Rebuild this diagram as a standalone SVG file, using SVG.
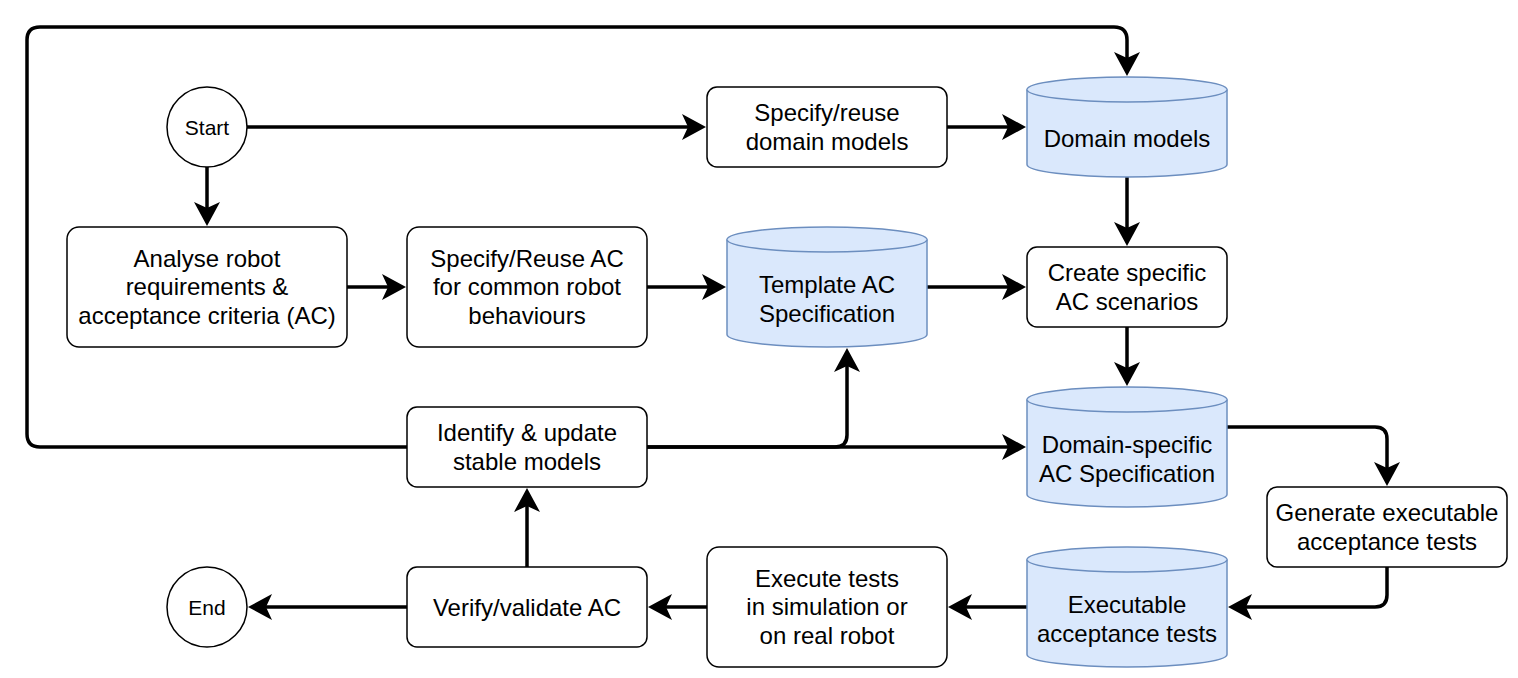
<svg xmlns="http://www.w3.org/2000/svg" width="1518" height="678" viewBox="0 0 1518 678">
<style>
.box{fill:#ffffff;stroke:#000000;stroke-width:1.5}
.cyl{fill:#dae8fc;stroke:#6c8ebf;stroke-width:1.5}
.t{font-family:"Liberation Sans",Arial,Helvetica,sans-serif;font-size:24px;fill:#000000;text-anchor:middle}
.ts{font-family:"Liberation Sans",Arial,Helvetica,sans-serif;font-size:21px;fill:#000000;text-anchor:middle}
.e{fill:none;stroke:#000000;stroke-width:3.5;marker-end:url(#arr)}
</style>
<defs>
<marker id="arr" markerUnits="userSpaceOnUse" markerWidth="26" markerHeight="28" viewBox="0 -14 26 28" refX="6" refY="0" orient="auto">
<path d="M0,-13 L24,0 L0,13 L6,0 Z" fill="#000000"/>
</marker>
</defs>
<rect width="1518" height="678" fill="#ffffff"/>
<g id="connectors">
<path class="e" d="M247,127 H688"/>
<path class="e" d="M207,167 V208"/>
<path class="e" d="M947,127 H1008"/>
<path class="e" d="M1127,177 V228"/>
<path class="e" d="M347,287 H388"/>
<path class="e" d="M647,287 H708"/>
<path class="e" d="M927,287 H1008"/>
<path class="e" d="M1127,327 V368"/>
<path class="e" d="M1227,427 H1375 Q1387,427 1387,439 V468"/>
<path class="e" d="M1387,567 V595 Q1387,607 1375,607 H1246"/>
<path class="e" d="M1027,607 H966"/>
<path class="e" d="M707,607 H666"/>
<path class="e" d="M407,607 H266"/>
<path class="e" d="M527,567 V506"/>
<path class="e" d="M647,447 H835 Q847,447 847,435 V366"/>
<path class="e" d="M647,447 H1008"/>
<path class="e" d="M407,447 H40 Q27,447 27,434 V40 Q27,27 40,27 H1114 Q1127,27 1127,40 V58"/>
</g>
<g id="start">
<circle class="box" cx="207" cy="127" r="40"/>
<text class="ts" x="207" y="134.5">Start</text>
</g>
<g id="end">
<circle class="box" cx="207" cy="607" r="40"/>
<text class="ts" x="207" y="614.5">End</text>
</g>
<g id="specify-domain">
<rect class="box" x="707" y="87" width="240" height="80" rx="10"/>
<text class="t" x="827" y="121.25">Specify/reuse</text>
<text class="t" x="827" y="149.75">domain models</text>
</g>
<g id="domain-models">
<path class="cyl" d="M1027,89.5 A100,12.5 0 0 1 1227,89.5 V164.5 A100,12.5 0 0 1 1027,164.5 Z"/>
<path class="cyl" d="M1027,89.5 A100,12.5 0 0 0 1227,89.5"/>
<text class="t" x="1127" y="147">Domain models</text>
</g>
<g id="analyse">
<rect class="box" x="67" y="227" width="280" height="120" rx="12"/>
<text class="t" x="207" y="266.5">Analyse robot</text>
<text class="t" x="207" y="295">requirements &amp;</text>
<text class="t" x="207" y="323.5">acceptance criteria (AC)</text>
</g>
<g id="specify-ac">
<rect class="box" x="407" y="227" width="240" height="120" rx="12"/>
<text class="t" x="527" y="266.5">Specify/Reuse AC</text>
<text class="t" x="527" y="295">for common robot</text>
<text class="t" x="527" y="323.5">behaviours</text>
</g>
<g id="template-ac">
<path class="cyl" d="M727,239.5 A100,12.5 0 0 1 927,239.5 V334.5 A100,12.5 0 0 1 727,334.5 Z"/>
<path class="cyl" d="M727,239.5 A100,12.5 0 0 0 927,239.5"/>
<text class="t" x="827" y="293.25">Template AC</text>
<text class="t" x="827" y="321.75">Specification</text>
</g>
<g id="create-specific">
<rect class="box" x="1027" y="247" width="200" height="80" rx="10"/>
<text class="t" x="1127" y="281.25">Create specific</text>
<text class="t" x="1127" y="309.75">AC scenarios</text>
</g>
<g id="domain-specific">
<path class="cyl" d="M1027,399.5 A100,12.5 0 0 1 1227,399.5 V494.5 A100,12.5 0 0 1 1027,494.5 Z"/>
<path class="cyl" d="M1027,399.5 A100,12.5 0 0 0 1227,399.5"/>
<text class="t" x="1127" y="453.25">Domain-specific</text>
<text class="t" x="1127" y="481.75">AC Specification</text>
</g>
<g id="identify">
<rect class="box" x="407" y="407" width="240" height="80" rx="10"/>
<text class="t" x="527" y="441.25">Identify &amp; update</text>
<text class="t" x="527" y="469.75">stable models</text>
</g>
<g id="generate">
<rect class="box" x="1267" y="487" width="240" height="80" rx="10"/>
<text class="t" x="1387" y="521.25">Generate executable</text>
<text class="t" x="1387" y="549.75">acceptance tests</text>
</g>
<g id="executable">
<path class="cyl" d="M1027,559.5 A100,12.5 0 0 1 1227,559.5 V654.5 A100,12.5 0 0 1 1027,654.5 Z"/>
<path class="cyl" d="M1027,559.5 A100,12.5 0 0 0 1227,559.5"/>
<text class="t" x="1127" y="613.25">Executable</text>
<text class="t" x="1127" y="641.75">acceptance tests</text>
</g>
<g id="execute">
<rect class="box" x="707" y="547" width="240" height="120" rx="12"/>
<text class="t" x="827" y="586.5">Execute tests</text>
<text class="t" x="827" y="615">in simulation or</text>
<text class="t" x="827" y="643.5">on real robot</text>
</g>
<g id="verify">
<rect class="box" x="407" y="567" width="240" height="80" rx="10"/>
<text class="t" x="527" y="615.5">Verify/validate AC</text>
</g>
</svg>
